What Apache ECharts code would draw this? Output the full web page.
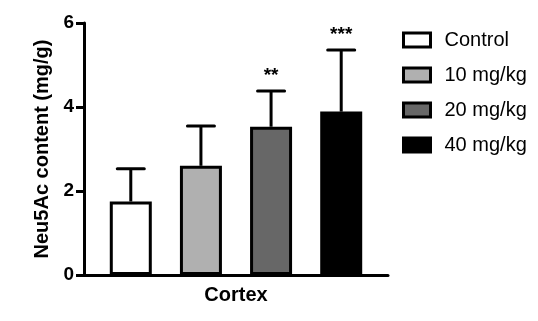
<!DOCTYPE html>
<html>
<head>
<meta charset="utf-8">
<script src="https://cdn.jsdelivr.net/npm/echarts@6/dist/echarts.min.js"></script>
<style>
html,body{margin:0;padding:0;background:#fff;}
#chart{width:538px;height:321px;}
</style>
</head>
<body>
<div id="chart"></div>
<script>
const categories = ['Cortex'];
const groups = ['Control', '10 mg/kg', '20 mg/kg', '40 mg/kg'];
const means = [1.75, 2.60, 3.53, 3.89];
const errors = [0.78, 0.95, 0.85, 1.47];
const significance = ['', '', '**', '***'];
const yTicks = [0, 2, 4, 6];

const fills = ['#ffffff', '#b0b0b0', '#676767', '#000000'];
const FONT = '"Liberation Sans", Arial, Helvetica, sans-serif';
const BAR_W = 42;
const GAP = 0.67;
const STEP = BAR_W * (1 + GAP);

const chart = echarts.init(document.getElementById('chart'), null, {renderer: 'canvas'});

const barSeries = groups.map((g, i) => ({
  type: 'bar',
  name: g,
  data: [means[i]],
  barWidth: BAR_W,
  barGap: (GAP * 100) + '%',
  itemStyle: {color: fills[i], borderColor: '#000', borderWidth: 3},
  emphasis: {disabled: true},
  z: 2
}));

const errData = groups.map((g, i) => [0, means[i], means[i] + errors[i], i]);

const errSeries = {
  type: 'custom',
  name: 'err',
  data: errData,
  encode: {x: 0, y: 2},
  z: 3,
  renderItem: function (params, api) {
    const idx = api.value(3);
    const base = api.coord([api.value(0), api.value(1)]);
    const top = api.coord([api.value(0), api.value(2)]);
    const n = groups.length;
    const x = base[0] + (idx - (n - 1) / 2) * STEP;
    const capHalf = 13.5;
    const children = [
      {type: 'line', shape: {x1: x, y1: base[1], x2: x, y2: top[1]}, style: {stroke: '#000', lineWidth: 3}},
      {type: 'line', shape: {x1: x - capHalf, y1: top[1], x2: x + capHalf, y2: top[1]}, style: {stroke: '#000', lineWidth: 3, lineCap: 'round'}}
    ];
    const sig = significance[idx];
    if (sig) {
      children.push({
        type: 'text',
        style: {
          text: sig, x: x, y: top[1] - 6,
          align: 'center', verticalAlign: 'bottom',
          font: 'bold 19px ' + FONT, fill: '#000'
        }
      });
    }
    return {type: 'group', children: children};
  }
};

const option = {
  backgroundColor: '#fff',
  animation: false,
  grid: {left: 84, right: 150, top: 23, bottom: 46},
  legend: {
    data: groups,
    orient: 'vertical',
    left: 402,
    top: 30,
    padding: 0,
    itemWidth: 27,
    itemHeight: 14,
    itemGap: 15,
    icon: 'rect',
    itemStyle: {borderColor: '#000', borderWidth: 3},
    textStyle: {fontSize: 20, color: '#000', fontFamily: FONT, padding: [0, 0, 0, 9]},
    selectedMode: false
  },
  xAxis: {
    type: 'category',
    data: categories,
    axisLine: {lineStyle: {color: '#000', width: 3}},
    axisTick: {show: false},
    axisLabel: {fontSize: 20, fontWeight: 'bold', color: '#000', fontFamily: FONT, margin: 10}
  },
  yAxis: {
    type: 'value',
    min: yTicks[0],
    max: yTicks[yTicks.length - 1],
    interval: yTicks[1] - yTicks[0],
    name: 'Neu5Ac content (mg/g)',
    nameLocation: 'middle',
    nameGap: 30,
    nameTextStyle: {fontSize: 20, fontWeight: 'bold', color: '#000', fontFamily: FONT},
    axisLine: {show: true, lineStyle: {color: '#000', width: 3}},
    axisTick: {show: true, length: 8, lineStyle: {color: '#000', width: 3}},
    splitLine: {show: false},
    axisLabel: {fontSize: 19, fontWeight: 'bold', color: '#000', fontFamily: FONT, margin: 10}
  },
  series: barSeries.concat([errSeries])
};
chart.setOption(option);
</script>
</body>
</html>
